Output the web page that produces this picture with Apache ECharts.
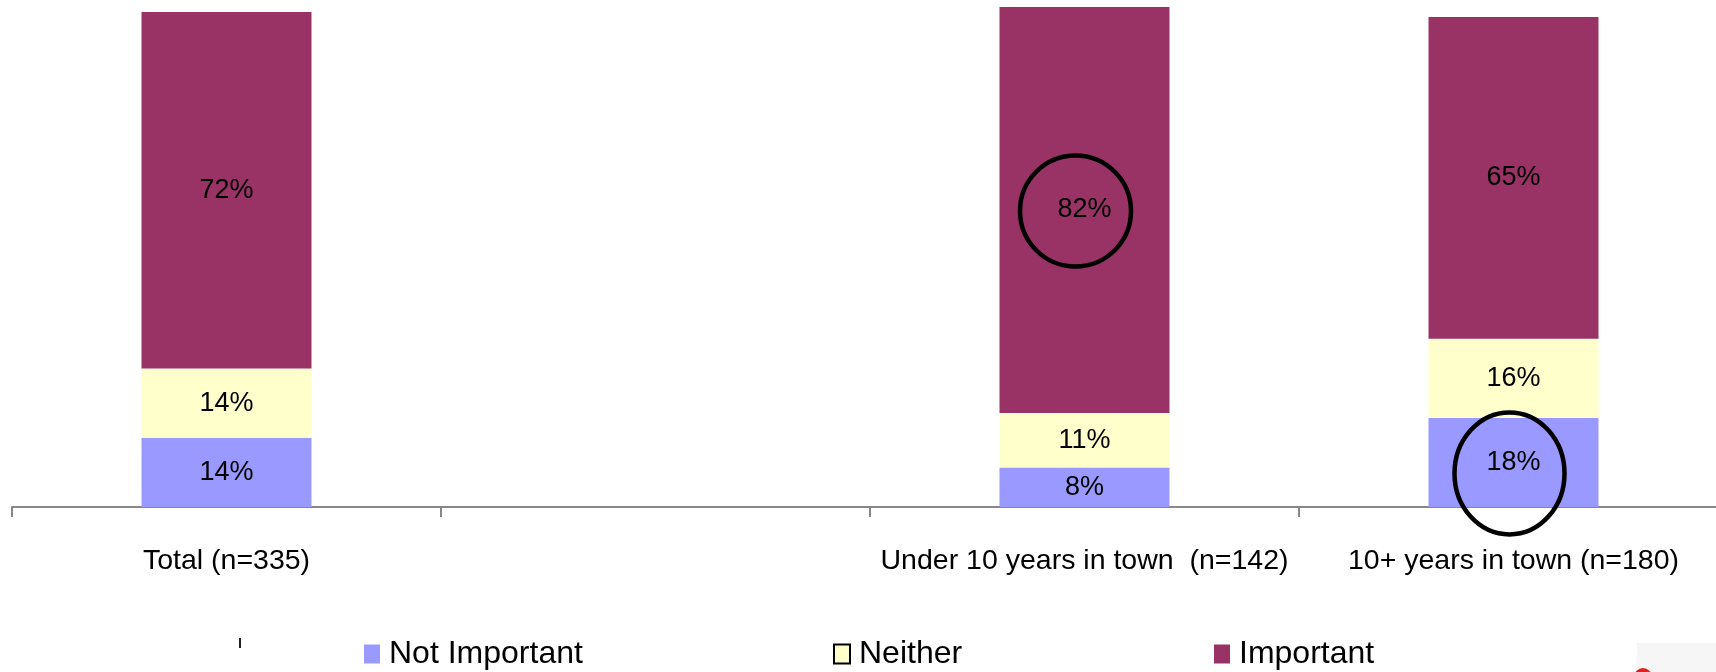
<!DOCTYPE html>
<html><head><meta charset="utf-8">
<script src="https://cdn.jsdelivr.net/npm/echarts@6/dist/echarts.min.js"></script>
<style>html,body{margin:0;padding:0;background:#fff;overflow:hidden}#c{width:1728px;height:672px}</style>
</head><body><div id="c"></div>
<script>
var categories = ['Total (n=335)', '', 'Under 10 years in town  (n=142)', '10+ years in town (n=180)'];
var notImportant = [14, null, 8, 18];
var neither = [14, null, 11, 16];
var important = [72, null, 82, 65];
var seriesNames = ['Not Important', 'Neither', 'Important'];
var colors = ['#9999FF', '#FFFFCC', '#993366'];

var labelFont = "'Liberation Sans', Arial, sans-serif";
var legendFont = "'Liberation Sans Narrow', 'Arial Narrow', 'Liberation Sans', sans-serif";

function mk(name, data, color) {
  return {
    name: name, type: 'bar', stack: 'all', data: data, barWidth: 170, clip: false,
    itemStyle: { color: color },
    label: { show: true, position: 'inside', color: '#000', fontSize: 27, fontFamily: labelFont,
      formatter: function (p) { return p.value == null ? '' : p.value + '%'; } }
  };
}
function legendAt(left, name, extra) {
  var d = { name: name };
  if (extra) d.itemStyle = extra;
  return {
    left: left, top: 633, itemWidth: 16, itemHeight: 19, icon: 'rect', itemGap: 0,
    selectedMode: false, data: [d],
    textStyle: { fontSize: 32, fontFamily: legendFont, color: '#000', padding: [0, 0, 0, 4] }
  };
}
var chart = echarts.init(document.getElementById('c'), null, { renderer: 'canvas' });
var option = {
  animation: false,
  grid: { left: 12, right: 0, top: 12, bottom: 165, containLabel: false },
  legend: [
    legendAt(359, seriesNames[0]),
    legendAt(828, seriesNames[1], { borderColor: '#000', borderWidth: 2 }),
    legendAt(1209, seriesNames[2])
  ],
  xAxis: {
    type: 'category', data: categories,
    axisLine: { lineStyle: { color: '#878787', width: 2 } },
    axisTick: { show: true, length: 10, lineStyle: { color: '#878787', width: 2 } },
    axisLabel: { color: '#000', fontSize: 28.5, fontFamily: labelFont, margin: 40, interval: 0 }
  },
  yAxis: { type: 'value', min: 0, max: 100, show: false, splitLine: { show: false } },
  series: [
    mk(seriesNames[0], notImportant, colors[0]),
    mk(seriesNames[1], neither, colors[1]),
    mk(seriesNames[2], important, colors[2])
  ]
};
chart.setOption(option);

// annotation ellipses positioned from data
var p1 = chart.convertToPixel({ xAxisIndex: 0, yAxisIndex: 0 }, [2, notImportant[2] + neither[2] + important[2] / 2]);
var p2 = chart.convertToPixel({ xAxisIndex: 0, yAxisIndex: 0 }, [3, notImportant[3] / 2]);
chart.setOption({
  graphic: [
    { type: 'ellipse', shape: { cx: p1[0] - 9, cy: p1[1] + 1, rx: 55.5, ry: 55.5 },
      style: { fill: 'none', stroke: '#000', lineWidth: 4.5 }, z: 100 },
    { type: 'ellipse', shape: { cx: p2[0] - 4, cy: p2[1] + 11, rx: 55, ry: 61 },
      style: { fill: 'none', stroke: '#000', lineWidth: 4.5 }, z: 100 },
    { type: 'rect', shape: { x: 239, y: 638, width: 2, height: 10 }, style: { fill: '#222' } },
    { type: 'rect', shape: { x: 1637, y: 643, width: 91, height: 29 }, style: { fill: '#f6f6f6' } },
    { type: 'circle', shape: { cx: 1643, cy: 677, r: 9 }, style: { fill: '#e02020' } }
  ]
});
</script></body></html>
